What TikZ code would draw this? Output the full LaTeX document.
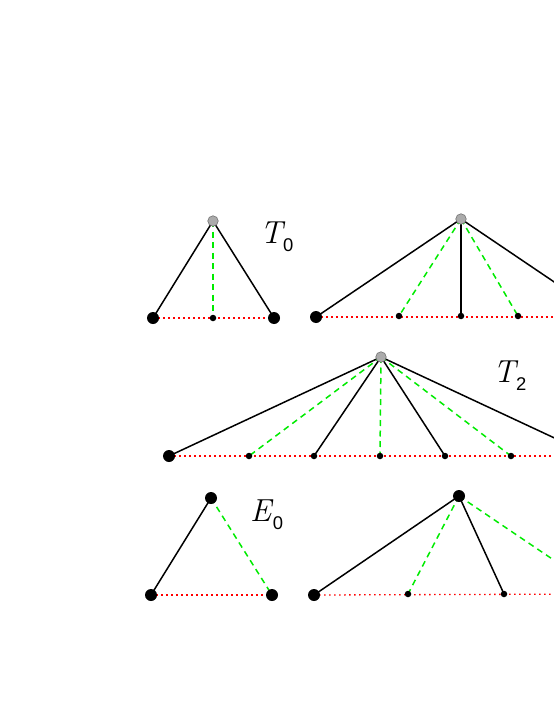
\documentclass[tikz,border=0pt]{standalone}
\usepackage{fontspec}
\newfontfamily\subfont{Liberation Sans}
\newcommand{\mylab}[3]{{\fontsize{32}{36}\selectfont\itshape #1}\kern#3\raisebox{-8bp}{\subfont\fontsize{18.5}{22}\selectfont #2}}
\begin{document}
\begin{tikzpicture}[x=1bp,y=-1bp,
  big/.style={circle,fill=black,inner sep=0pt,minimum size=12bp},
  small/.style={circle,fill=black,inner sep=0pt,minimum size=6.5bp},
  apex/.style={circle,fill=black!33,draw=black!55,line width=0.6bp,inner sep=0pt,minimum size=10.5bp},
  solidedge/.style={line width=1.5bp,black},
  greenedge/.style={line width=1.5bp,color={rgb,255:red,0;green,235;blue,0},dash pattern=on 6bp off 4.5bp},
  rededge/.style={line width=1.3bp,color={rgb,255:red,255;green,0;blue,0},dash pattern=on 1.6bp off 3.4bp},
  lab/.style={inner sep=0pt,anchor=base west}]
\useasboundingbox (0,0) rectangle (554,717);
\clip (0,0) rectangle (554,717);
% ---------- T0 ----------
\coordinate (a0) at (213,221);
\coordinate (a1) at (153,318);
\coordinate (a2) at (213,318);
\coordinate (a3) at (274,318);
\draw[rededge] (a1) -- (a3);
\draw[solidedge] (a0) -- (a1);
\draw[solidedge] (a0) -- (a3);
\draw[greenedge] (a0) -- (a2);
\node[big] (na1) at (a1) {};
\node[small] (na2) at (a2) {};
\node[big] (na3) at (a3) {};
\node[apex] (na0) at (a0) {};
\node[lab] (lt0) at (260,243) {\mylab{T}{0}{0.5bp}};
% ---------- T1 ----------
\coordinate (b0) at (461,219);
\coordinate (b1) at (316,317);
\coordinate (b2) at (399,316);
\coordinate (b3) at (461,316);
\coordinate (b4) at (518,316);
\coordinate (b5) at (606,317);
\draw[rededge] (b1) -- (b5);
\draw[solidedge] (b0) -- (b1);
\draw[solidedge] (b0) -- (b3);
\draw[solidedge] (b0) -- (b5);
\draw[greenedge] (b0) -- (b2);
\draw[greenedge] (b0) -- (b4);
\node[big] (nb1) at (b1) {};
\node[small] (nb2) at (b2) {};
\node[small] (nb3) at (b3) {};
\node[small] (nb4) at (b4) {};
\node[apex] (nb0) at (b0) {};
% ---------- T2 ----------
\coordinate (c0) at (381,357);
\coordinate (c1) at (169,456);
\coordinate (c2) at (249,456);
\coordinate (c3) at (314,456);
\coordinate (c4) at (380,456);
\coordinate (c5) at (445,456);
\coordinate (c6) at (511,456);
\coordinate (c7) at (593,456);
\draw[rededge] (c1) -- (c7);
\draw[solidedge] (c0) -- (c1);
\draw[solidedge] (c0) -- (c3);
\draw[solidedge] (c0) -- (c5);
\draw[solidedge] (c0) -- (c7);
\draw[greenedge] (c0) -- (c2);
\draw[greenedge] (c0) -- (c4);
\draw[greenedge] (c0) -- (c6);
\node[big] (nc1) at (c1) {};
\node[small] (nc2) at (c2) {};
\node[small] (nc3) at (c3) {};
\node[small] (nc4) at (c4) {};
\node[small] (nc5) at (c5) {};
\node[small] (nc6) at (c6) {};
\node[apex] (nc0) at (c0) {};
\node[lab] (lt2) at (493,382) {\mylab{T}{2}{0.5bp}};
% ---------- E0 ----------
\coordinate (d0) at (211,498);
\coordinate (d1) at (151,595);
\coordinate (d2) at (272,595);
\draw[rededge] (d1) -- (d2);
\draw[solidedge] (d0) -- (d1);
\draw[greenedge] (d0) -- (d2);
\node[big] (nd0) at (d0) {};
\node[big] (nd1) at (d1) {};
\node[big] (nd2) at (d2) {};
\node[lab] (le0) at (250,521) {\mylab{E}{0}{1.5bp}};
% ---------- E1 ----------
\coordinate (e0) at (459,496);
\coordinate (e1) at (314,595);
\coordinate (e2) at (408,594);
\coordinate (e3) at (504,594);
\coordinate (e4) at (604,594);
\draw[rededge] (e1) -- (e4);
\draw[solidedge] (e0) -- (e1);
\draw[solidedge] (e0) -- (e3);
\draw[greenedge] (e0) -- (e2);
\draw[greenedge] (e0) -- (e4);
\node[big] (ne0) at (e0) {};
\node[big] (ne1) at (e1) {};
\node[small] (ne2) at (e2) {};
\node[small] (ne3) at (e3) {};
\end{tikzpicture}
\end{document}
